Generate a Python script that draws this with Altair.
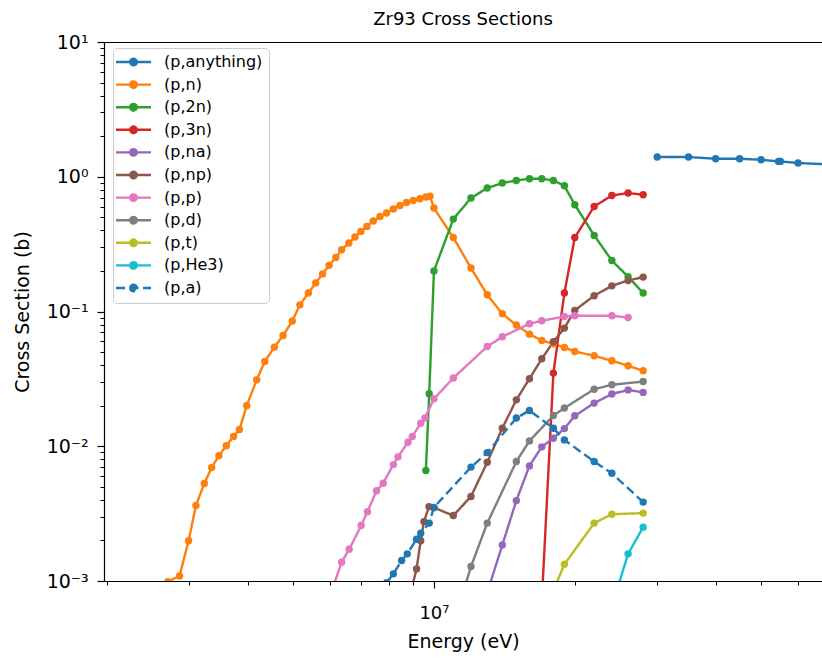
import altair as alt
import pandas as pd

FONT = "DejaVu Sans"

# Reaction channels, in legend order, with their matplotlib-style colours
REACTIONS = ["(p,anything)", "(p,n)", "(p,2n)", "(p,3n)", "(p,na)", "(p,np)",
             "(p,p)", "(p,d)", "(p,t)", "(p,He3)", "(p,a)"]
COLORS = ["#1f77b4", "#ff7f0e", "#2ca02c", "#d62728", "#9467bd", "#8c564b",
          "#e377c2", "#7f7f7f", "#bcbd22", "#17becf", "#1f77b4"]
DASHES = [[1, 0]] * 10 + [[9, 4.5]]

# Incident proton energies (MeV) and cross sections (barn) per channel
e_anything = [30, 35, 40, 45, 50, 54.5, 55, 60, 70, 80]
s_anything = [1.40, 1.40, 1.36, 1.36, 1.337, 1.30, 1.30, 1.264, 1.235, 1.20]

e_n = [2.55, 2.70, 2.86, 2.99, 3.10, 3.23, 3.35, 3.47, 3.60, 3.73, 3.84, 3.98,
       4.18, 4.35, 4.56, 4.76, 4.98, 5.17, 5.39, 5.59, 5.78, 5.97, 6.17, 6.35,
       6.58, 6.78, 6.98, 7.19, 7.42, 7.67, 7.92, 8.19, 8.46, 8.74, 9.03, 9.33,
       9.61, 9.81, 10, 11, 12, 13, 14, 15, 16, 17, 18, 19, 20, 22, 24, 26, 28]
s_n = [5.0e-4, 9.9e-4, 1.09e-3, 1.99e-3, 3.63e-3, 5.29e-3, 6.95e-3, 8.49e-3,
       0.0101, 0.0118, 0.0133, 0.0200, 0.0311, 0.0426, 0.0544, 0.0664, 0.0849,
       0.112, 0.137, 0.163, 0.190, 0.220, 0.252, 0.287, 0.322, 0.357, 0.393,
       0.428, 0.469, 0.507, 0.538, 0.576, 0.612, 0.644, 0.667, 0.687, 0.707,
       0.716, 0.586, 0.354, 0.210, 0.133, 0.0962, 0.0793, 0.0679, 0.0609,
       0.0576, 0.0541, 0.0505, 0.0469, 0.0431, 0.0396, 0.0363]

e_2n = [9.61, 9.77, 10, 11, 12, 13, 14, 15, 16, 17, 18, 19, 20, 22, 24, 26, 28]
s_2n = [0.0066, 0.0245, 0.200, 0.485, 0.695, 0.824, 0.898, 0.939, 0.966,
        0.966, 0.939, 0.857, 0.620, 0.367, 0.239, 0.181, 0.137]

e_3n = [17, 18, 19, 20, 22, 24, 26, 28]
s_3n = [7.0e-4, 0.0349, 0.137, 0.354, 0.602, 0.726, 0.757, 0.735]

e_na = [13, 14, 15, 16, 17, 18, 19, 20, 22, 24, 26, 28]
s_na = [8.2e-4, 1.85e-3, 3.95e-3, 7.15e-3, 9.9e-3, 0.01148, 0.01352, 0.01682,
        0.0209, 0.0244, 0.0262, 0.0251]

e_np = [9.0, 9.18, 9.37, 9.52, 9.76, 10, 11, 12, 13, 14, 15, 16, 17, 18, 19,
        20, 22, 24, 26, 28]
s_np = [9.3e-4, 1.23e-3, 1.99e-3, 2.76e-3, 3.56e-3, 3.5e-3, 3.06e-3, 4.24e-3,
        7.6e-3, 0.01363, 0.0221, 0.0317, 0.0446, 0.0596, 0.0753, 0.102, 0.131,
        0.155, 0.170, 0.180]

e_p = [6.1, 6.35, 6.59, 6.99, 7.21, 7.54, 7.79, 8.19, 8.38, 8.80, 8.99, 9.37,
       9.57, 10, 11, 13, 14, 16, 17, 19, 20, 24, 26]
s_p = [9.2e-4, 1.38e-3, 1.72e-3, 2.58e-3, 3.27e-3, 4.67e-3, 5.32e-3, 7.31e-3,
       8.34e-3, 0.0107, 0.0118, 0.01484, 0.0162, 0.0225, 0.0321, 0.0550,
       0.0649, 0.0811, 0.0853, 0.0918, 0.0929, 0.0929, 0.0902]

e_d = [11, 12, 13, 15, 16, 18, 19, 22, 24, 28]
s_d = [4.8e-4, 1.28e-3, 2.69e-3, 7.7e-3, 0.01096, 0.0169, 0.0192, 0.0265,
       0.0286, 0.0302]

e_t = [18, 19, 22, 24, 28]
s_t = [8.5e-4, 1.33e-3, 2.69e-3, 3.13e-3, 3.19e-3]

e_he3 = [24, 26, 28]
s_he3 = [6.5e-4, 1.59e-3, 2.51e-3]

e_a = [7.92, 8.19, 8.53, 8.77, 9.18, 9.37, 9.77, 10, 12, 13, 15, 16, 18, 19,
       22, 24, 28]
s_a = [9.7e-4, 1.13e-3, 1.42e-3, 1.59e-3, 2.04e-3, 2.26e-3, 2.69e-3, 3.52e-3,
       7.0e-3, 8.97e-3, 0.0162, 0.0184, 0.0136, 0.01115, 7.7e-3, 6.3e-3,
       3.85e-3]

ENERGIES = [e_anything, e_n, e_2n, e_3n, e_na, e_np, e_p, e_d, e_t, e_he3, e_a]
SECTIONS = [s_anything, s_n, s_2n, s_3n, s_na, s_np, s_p, s_d, s_t, s_he3, s_a]

rows = []
for name, energies, sections in zip(REACTIONS, ENERGIES, SECTIONS):
    for e, s in zip(energies, sections):
        rows.append({"reaction": name, "energy": e * 1e6, "xs": s})
df = pd.DataFrame(rows)

# Axis limits and tick positions
X_LIMITS = [1.972e6, 6.75e7]
Y_LIMITS = [1e-3, 10]
X_MAJOR = [1e7]
X_MINOR = [m * 1e6 for m in range(2, 10)] + [m * 1e7 for m in range(2, 7)]
Y_MAJOR = [1e-3, 1e-2, 1e-1, 1, 10]
Y_MINOR = [m * d for d in (1e-3, 1e-2, 1e-1, 1) for m in range(2, 10)]

SUP = {"-": "\u207b", "0": "\u2070", "1": "\u00b9", "2": "\u00b2", "3": "\u00b3",
       "4": "\u2074", "5": "\u2075", "6": "\u2076", "7": "\u2077", "8": "\u2078",
       "9": "\u2079"}


def power_label_expr(values):
    import math
    parts = []
    for v in values:
        exp = str(int(round(math.log10(v))))
        text = "10" + "".join(SUP[c] for c in exp)
        parts.append(f"abs(log(datum.value)/LN10 - ({exp})) < 0.01 ? '{text}'")
    return " : ".join(parts) + " : ''"


xscale = alt.Scale(type="log", domain=X_LIMITS, nice=False)
yscale = alt.Scale(type="log", domain=Y_LIMITS, nice=False)

# Legend symbol: short line with a dot in the middle (5 px per path unit)
SYMBOL = ("M-3.5,0H3.5M-0.65,0A0.65,0.65,0,1,1,0.65,0"
          "A0.65,0.65,0,1,1,-0.65,0Z")
legend = alt.Legend(
    title=None, orient="none", legendX=9, legendY=6,
    symbolType=SYMBOL, symbolSize=100, symbolStrokeWidth=2.4,
    symbolOffset=6.5,
    symbolFillColor={"expr": "scale('color', datum.value)"},
    labelFontSize=16, labelFont=FONT, labelColor="black", labelOffset=22.5,
    rowPadding=4.6, padding=6, fillColor="rgba(255,255,255,0.8)",
    strokeColor="#cccccc", cornerRadius=4,
)

x_minor = alt.Axis(orient="bottom", values=X_MINOR, tickSize=4, tickColor="black",
                   tickWidth=1, labels=False, domain=False, grid=False, title=None)
y_minor = alt.Axis(orient="left", values=Y_MINOR, tickSize=4, tickColor="black",
                   tickWidth=1, labels=False, domain=False, grid=False, title=None)

x_major = alt.Axis(
    orient="bottom", values=X_MAJOR, tickSize=7, tickColor="black", tickWidth=1.2,
    domain=True, domainColor="black", domainWidth=1.2, grid=False,
    labelExpr=power_label_expr(X_MAJOR), labelFont=FONT, labelFontSize=18,
    labelColor="black", labelBaseline="alphabetic", labelPadding=30,
    title="Energy (eV)", titleFont=FONT, titleFontSize=19, titleFontWeight="normal",
    titleColor="black", titleBaseline="alphabetic", titleY=66, zindex=1,
)
y_major = alt.Axis(
    orient="left", values=Y_MAJOR, tickSize=7, tickColor="black", tickWidth=1.2,
    domain=True, domainColor="black", domainWidth=1.2, grid=False,
    labelExpr=power_label_expr(Y_MAJOR), labelFont=FONT, labelFontSize=19,
    labelColor="black", labelPadding=9,
    title="Cross Section (b)", titleFont=FONT, titleFontSize=19,
    titleFontWeight="normal", titleColor="black", titleBaseline="alphabetic",
    titleAngle=270, titleX=-76, titleY=269.5, zindex=1,
)
x_top = alt.Axis(orient="top", ticks=False, labels=False, domain=True,
                 domainColor="black", domainWidth=1.2, grid=False, title=None,
                 zindex=1)

lines = alt.Chart(df).mark_line(
    strokeWidth=2.4, clip=True,
    point=alt.OverlayMarkDef(filled=True, size=55, clip=True, opacity=1),
).encode(
    x=alt.X("energy:Q", scale=xscale, axis=x_minor),
    y=alt.Y("xs:Q", scale=yscale, axis=y_minor),
    color=alt.Color("reaction:N", scale=alt.Scale(domain=REACTIONS, range=COLORS),
                    legend=legend),
    strokeDash=alt.StrokeDash("reaction:N",
                              scale=alt.Scale(domain=REACTIONS, range=DASHES),
                              legend=legend),
)

frame = alt.Chart(df).mark_point(opacity=0).encode(
    x=alt.X("energy:Q", scale=xscale, axis=x_major),
    y=alt.Y("xs:Q", scale=yscale, axis=y_major),
)

top_spine = alt.Chart(df).mark_point(opacity=0).encode(
    x=alt.X("energy:Q", scale=xscale, axis=x_top),
    y=alt.Y("xs:Q", scale=yscale, axis=None),
)

chart = alt.layer(lines, frame, top_spine).resolve_axis(
    x="independent", y="independent"
).properties(
    width=718, height=539,
    title=alt.TitleParams("Zr93 Cross Sections", font=FONT, fontSize=18,
                          fontWeight="normal", color="black", anchor="middle",
                          offset=4),
    padding={"left": 104, "top": 42, "right": 0, "bottom": 77},
    autosize=alt.AutoSizeParams(type="none"),
).configure_view(stroke=None)

chart.save("out.html", embed_options={"renderer": "svg", "actions": False})
